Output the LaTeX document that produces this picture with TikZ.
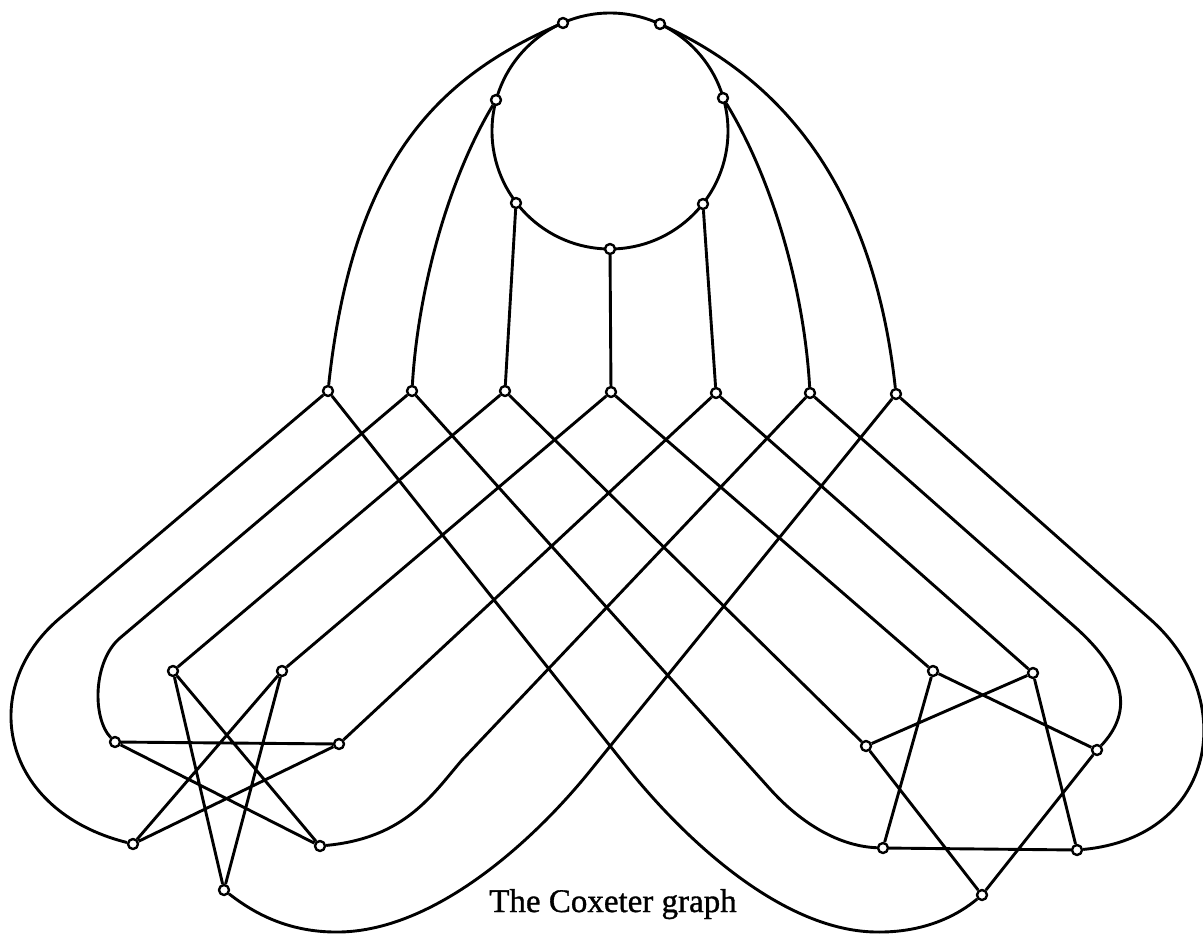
\documentclass[tikz,border=0pt]{standalone}
\usepackage{fontspec}
\setmainfont{Liberation Serif}
\newfontfamily\capfont[FakeBold=1]{Liberation Serif}
\begin{document}
\begin{tikzpicture}[x=1pt,y=-1pt,
  v/.style={circle,draw,fill=white,line width=2.4pt,inner sep=0pt,minimum size=10pt},
  e/.style={line width=2.9pt},
  line join=round]
\fill[white] (0,0) rectangle (1203,935);
\useasboundingbox (0,0) rectangle (1203,935);
% the 7-cycle
\draw[e] (610,131) circle[radius=118pt];
% circle vertices
\node[v] (c1) at (563,23) {};
\node[v] (c2) at (660,24) {};
\node[v] (c3) at (496,100) {};
\node[v] (c4) at (723,98) {};
\node[v] (c5) at (516,203) {};
\node[v] (c6) at (703,204) {};
\node[v] (c7) at (610,249) {};
% middle row
\node[v] (M1) at (328,391) {};
\node[v] (M2) at (412,391) {};
\node[v] (M3) at (505,391) {};
\node[v] (M4) at (611,392) {};
\node[v] (M5) at (716,393) {};
\node[v] (M6) at (810,393) {};
\node[v] (M7) at (896,394) {};
% left star
\node[v] (A) at (173,671) {};
\node[v] (B) at (282,671) {};
\node[v] (C) at (115,742) {};
\node[v] (D) at (339,744) {};
\node[v] (E) at (133,844) {};
\node[v] (F) at (320,846) {};
\node[v] (G) at (224,890) {};
% right star
\node[v] (P) at (933,671) {};
\node[v] (Q) at (1033,673) {};
\node[v] (R) at (866,746) {};
\node[v] (S) at (1097,750) {};
\node[v] (T) at (883,848) {};
\node[v] (U) at (1077,850) {};
\node[v] (V) at (982,895) {};
% spokes to the circle
\draw[e] (c5) -- (M3);
\draw[e] (c7) -- (M4);
\draw[e] (c6) -- (M5);
\draw[e] (M1) .. controls (352,170) and (430,81) .. (c1);
\draw[e] (M2) .. controls (418,290) and (448,180) .. (c3);
\draw[e] (M6) .. controls (804,290) and (773,180) .. (c4);
\draw[e] (M7) .. controls (872,175) and (773,77) .. (c2);
% to the left star
\draw[e] (M1) -- (60,618) .. controls (-24,689) and (1,811) .. (E);
\draw[e] (M2) -- (120,638) .. controls (93,661) and (92,718) .. (C);
\draw[e] (M3) -- (A);
\draw[e] (M4) -- (B);
\draw[e] (M5) -- (D);
\draw[e] (M6) -- (462,760) .. controls (432,795) and (405,838) .. (F);
\draw[e] (M7) -- (590,771) .. controls (540,833) and (440,930) .. (340,932)
               .. controls (285,933) and (250,910) .. (G);
% to the right star
\draw[e] (M7) -- (1150,619) .. controls (1240,698) and (1217,837) .. (U);
\draw[e] (M6) -- (1075,627) .. controls (1131,677) and (1130,715) .. (S);
\draw[e] (M5) -- (Q);
\draw[e] (M4) -- (P);
\draw[e] (M3) -- (R);
\draw[e] (M2) -- (770,789) .. controls (797,819) and (835,846) .. (T);
\draw[e] (M1) -- (630,771) .. controls (680,833) and (778,930) .. (875,932)
               .. controls (925,933) and (958,915) .. (V);
% star edges
\draw[e] (A)--(F) (A)--(G) (B)--(E) (B)--(G) (C)--(D) (C)--(F) (D)--(E);
\draw[e] (P)--(S) (P)--(T) (Q)--(R) (Q)--(U) (R)--(V) (S)--(V) (T)--(U);
% caption
\node[anchor=base,font=\capfont\fontsize{33}{40}\selectfont] (cap) at (613,912) {The Coxeter graph};
\end{tikzpicture}
\end{document}
